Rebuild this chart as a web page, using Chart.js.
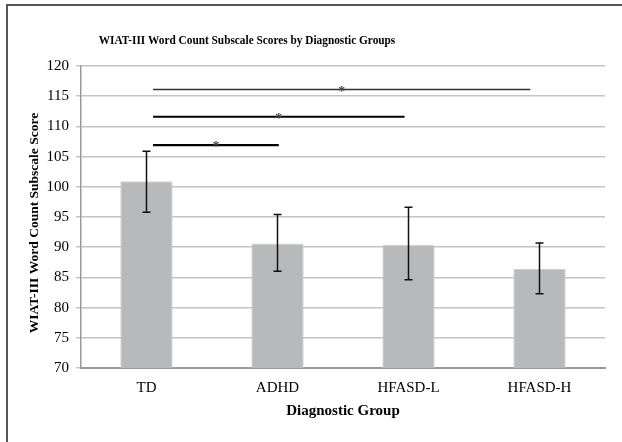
<!DOCTYPE html>
<html>
<head>
<meta charset="utf-8">
<script src="https://cdn.jsdelivr.net/npm/chart.js@4/dist/chart.umd.min.js"></script>
<style>
html,body{margin:0;padding:0;background:#fff;}
#wrap{width:622px;height:442px;position:relative;}
</style>
</head>
<body>
<div id="wrap"><canvas id="c" width="622" height="442"></canvas></div>
<script>
const categories = ['TD', 'ADHD', 'HFASD-L', 'HFASD-H'];
const means = [100.9, 90.6, 90.4, 86.4];
const errLow = [95.8, 86.0, 84.6, 82.3];
const errHigh = [105.9, 95.4, 96.6, 90.7];
const yTicks = [70, 75, 80, 85, 90, 95, 100, 105, 110, 115, 120];
// significance brackets: from / to (category positions) and y level
const sigFrom = [0.05, 0.05, 0.05];
const sigTo = [1.01, 1.97, 2.93];
const sigLevel = [106.9, 111.6, 116.1];
const sigLabel = ['*', '*', '*'];

const SERIF = '"Liberation Serif", "Times New Roman", serif';

const decor = {
  id: 'decor',
  beforeDraw(chart) {
    const ctx = chart.ctx;
    ctx.save();
    ctx.fillStyle = '#fff';
    ctx.fillRect(0, 0, chart.width, chart.height);
    ctx.strokeStyle = '#555';
    ctx.lineWidth = 2;
    ctx.strokeRect(7, 5, 700, 600);
    ctx.fillStyle = '#000';
    ctx.textAlign = 'center';
    ctx.textBaseline = 'middle';
    // title (slightly condensed like the reference)
    ctx.save();
    ctx.font = 'bold 13px ' + SERIF;
    ctx.translate(247, 41);
    ctx.scale(0.87, 1);
    ctx.fillText('WIAT-III Word Count Subscale Scores by Diagnostic Groups', 0, 0);
    ctx.restore();
    // y axis title
    ctx.save();
    ctx.font = 'bold 13.5px ' + SERIF;
    ctx.translate(35, 223);
    ctx.rotate(-Math.PI / 2);
    ctx.fillText('WIAT-III Word Count Subscale Score', 0, 0);
    ctx.restore();
    ctx.restore();
  },
  afterDatasetsDraw(chart) {
    const ctx = chart.ctx;
    const x = chart.scales.x, y = chart.scales.y;
    ctx.save();
    // error bars
    ctx.strokeStyle = '#111';
    ctx.lineWidth = 1.5;
    for (let i = 0; i < categories.length; i++) {
      const px = x.getPixelForValue(i);
      const yt = y.getPixelForValue(errHigh[i]);
      const yb = y.getPixelForValue(errLow[i]);
      ctx.beginPath();
      ctx.moveTo(px, yt); ctx.lineTo(px, yb);
      ctx.moveTo(px - 4, yt); ctx.lineTo(px + 4, yt);
      ctx.moveTo(px - 4, yb); ctx.lineTo(px + 4, yb);
      ctx.stroke();
    }
    // significance lines
    for (let i = 0; i < sigLevel.length; i++) {
      const x1 = x.getPixelForValue(sigFrom[i]);
      const x2 = x.getPixelForValue(sigTo[i]);
      const py = y.getPixelForValue(sigLevel[i]);
      ctx.strokeStyle = i === 2 ? '#333' : '#000';
      ctx.lineWidth = i === 2 ? 1.5 : 2.2;
      ctx.beginPath();
      ctx.moveTo(x1, py); ctx.lineTo(x2, py);
      ctx.stroke();
      ctx.fillStyle = '#444';
      ctx.font = 'bold 14px ' + SERIF;
      ctx.textAlign = 'center';
      ctx.textBaseline = 'alphabetic';
      ctx.fillText(sigLabel[i], (x1 + x2) / 2, py + 6);
    }
    ctx.restore();
  }
};

new Chart(document.getElementById('c'), {
  type: 'bar',
  data: {
    labels: categories,
    datasets: [{
      data: means,
      backgroundColor: '#b8b9bb',
      borderColor: '#cfd0d2',
      borderWidth: 1,
      barPercentage: 0.4,
      categoryPercentage: 1.0
    }]
  },
  options: {
    responsive: false,
    animation: false,
    devicePixelRatio: 1,
    layout: { padding: { top: 66, right: 17, left: 0, bottom: 0 } },
    plugins: { legend: { display: false }, tooltip: { enabled: false } },
    scales: {
      x: {
        grid: { display: false, drawTicks: false },
        border: { display: true, color: '#999', width: 2 },
        ticks: { color: '#000', font: { family: SERIF, size: 15 }, padding: 11, maxRotation: 0 },
        title: { display: true, text: 'Diagnostic Group', color: '#000',
                 font: { family: SERIF, size: 15, weight: 'bold' }, padding: { top: 0, bottom: 22 } },
        afterFit(s) { s.height = 74; }
      },
      y: {
        min: 70, max: 120,
        afterBuildTicks(s) { s.ticks = yTicks.map(v => ({ value: v })); },
        grid: { color: '#c4c4c4', lineWidth: 1.5, tickLength: 5, drawTicks: true },
        border: { display: true, color: '#999', width: 1.5 },
        ticks: { color: '#000', font: { family: SERIF, size: 15 }, padding: 7 },
        title: { display: false },
        afterFit(s) { s.width = 81; }
      }
    }
  },
  plugins: [decor]
});
</script>
</body>
</html>
